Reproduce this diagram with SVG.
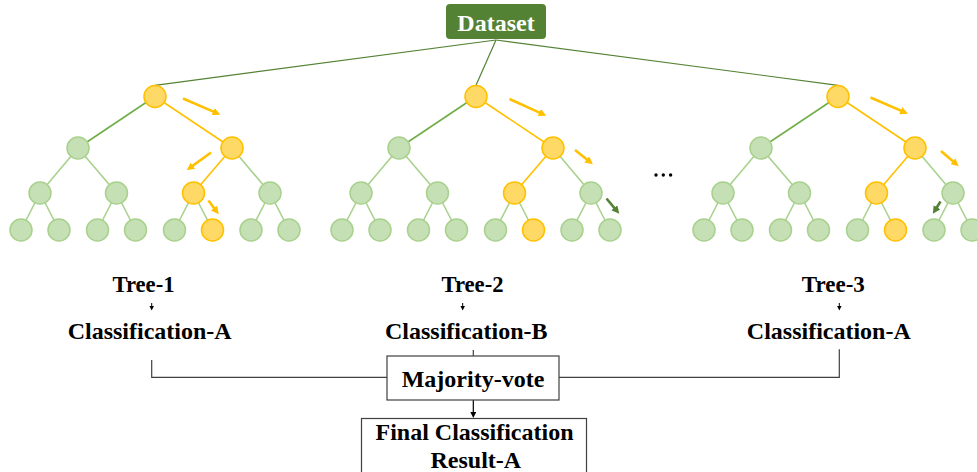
<svg xmlns="http://www.w3.org/2000/svg" width="977" height="472" viewBox="0 0 977 472">
<style>
.g{fill:#c5e0b4;stroke:#a9d18e;stroke-width:1.5}
.y{fill:#ffd966;stroke:#ffc000;stroke-width:1.5}
.eg{stroke:#a9d18e;stroke-width:1.6;fill:none}
.ed{stroke:#70ad47;stroke-width:1.6;fill:none}
.ey{stroke:#ffc000;stroke-width:1.6;fill:none}
.ds{stroke:#548235;stroke-width:1.2;fill:none}
.ay{stroke:#ffc000;stroke-width:2.6;fill:none;marker-end:url(#hy)}
.ag{stroke:#548235;stroke-width:2.6;fill:none;marker-end:url(#hg)}
.ln{stroke:#404040;stroke-width:1.2;fill:none}
.box{fill:#ffffff;stroke:#404040;stroke-width:1.2}
.t{font-family:"Liberation Serif","Times New Roman",serif;font-weight:bold;fill:#000;text-anchor:middle}
.t24{font-size:24px}
</style>
<defs>
<marker id="hy" viewBox="0 0 10 10" refX="5" refY="5" markerWidth="3" markerHeight="3" orient="auto"><path d="M0,0 L10,5 L0,10 z" fill="#ffc000"/></marker>
<marker id="hg" viewBox="0 0 10 10" refX="5" refY="5" markerWidth="3" markerHeight="3" orient="auto"><path d="M0,0 L10,5 L0,10 z" fill="#548235"/></marker>
<marker id="hk" viewBox="0 0 10 10" refX="5" refY="5" markerWidth="5" markerHeight="5" orient="auto"><path d="M0,0 L10,5 L0,10 z" fill="#000"/></marker>
</defs>

<g id="connectors">
  <line class="ds" x1="496" y1="40" x2="155" y2="85.3"/>
  <line class="ds" x1="496" y1="40" x2="476" y2="85.3"/>
  <line class="ds" x1="496" y1="40" x2="838" y2="85.3"/>
  <line class="ed" x1="155" y1="96.5" x2="78" y2="148"/>
  <line class="ey" x1="155" y1="96.5" x2="232" y2="148"/>
  <line class="eg" x1="78" y1="148" x2="40" y2="193"/>
  <line class="eg" x1="78" y1="148" x2="116.5" y2="193"/>
  <line class="ey" x1="232" y1="148" x2="193.5" y2="193"/>
  <line class="eg" x1="232" y1="148" x2="270" y2="193"/>
  <line class="eg" x1="40" y1="193" x2="21" y2="230"/>
  <line class="eg" x1="40" y1="193" x2="59" y2="230"/>
  <line class="eg" x1="116.5" y1="193" x2="97.5" y2="230"/>
  <line class="eg" x1="116.5" y1="193" x2="135.5" y2="230"/>
  <line class="eg" x1="193.5" y1="193" x2="174.5" y2="230"/>
  <line class="eg" x1="193.5" y1="193" x2="212.5" y2="230"/>
  <line class="eg" x1="270" y1="193" x2="251" y2="230"/>
  <line class="eg" x1="270" y1="193" x2="289" y2="230"/>
  <line class="ed" x1="476" y1="96.5" x2="399" y2="148"/>
  <line class="ey" x1="476" y1="96.5" x2="553" y2="148"/>
  <line class="eg" x1="399" y1="148" x2="361" y2="193"/>
  <line class="eg" x1="399" y1="148" x2="437.5" y2="193"/>
  <line class="ey" x1="553" y1="148" x2="514.5" y2="193"/>
  <line class="eg" x1="553" y1="148" x2="591" y2="193"/>
  <line class="eg" x1="361" y1="193" x2="342" y2="230"/>
  <line class="eg" x1="361" y1="193" x2="380" y2="230"/>
  <line class="eg" x1="437.5" y1="193" x2="418.5" y2="230"/>
  <line class="eg" x1="437.5" y1="193" x2="456.5" y2="230"/>
  <line class="eg" x1="514.5" y1="193" x2="495.5" y2="230"/>
  <line class="eg" x1="514.5" y1="193" x2="533.5" y2="230"/>
  <line class="eg" x1="591" y1="193" x2="572" y2="230"/>
  <line class="eg" x1="591" y1="193" x2="610" y2="230"/>
  <line class="ed" x1="838" y1="96.5" x2="761" y2="148"/>
  <line class="ey" x1="838" y1="96.5" x2="915" y2="148"/>
  <line class="eg" x1="761" y1="148" x2="723" y2="193"/>
  <line class="eg" x1="761" y1="148" x2="799.5" y2="193"/>
  <line class="ey" x1="915" y1="148" x2="876.5" y2="193"/>
  <line class="eg" x1="915" y1="148" x2="953" y2="193"/>
  <line class="eg" x1="723" y1="193" x2="704" y2="230"/>
  <line class="eg" x1="723" y1="193" x2="742" y2="230"/>
  <line class="eg" x1="799.5" y1="193" x2="780.5" y2="230"/>
  <line class="eg" x1="799.5" y1="193" x2="818.5" y2="230"/>
  <line class="eg" x1="876.5" y1="193" x2="857.5" y2="230"/>
  <line class="eg" x1="876.5" y1="193" x2="895.5" y2="230"/>
  <line class="eg" x1="953" y1="193" x2="934" y2="230"/>
  <line class="eg" x1="953" y1="193" x2="972" y2="230"/>
  <line class="ay" x1="183" y1="98.5" x2="216.8" y2="113.1"/>
  <line class="ay" x1="211" y1="152.5" x2="189.8" y2="167.9"/>
  <line class="ay" x1="208.5" y1="200.5" x2="216.4" y2="211.2"/>
  <line class="ay" x1="509.5" y1="99" x2="542.8" y2="114.1"/>
  <line class="ay" x1="575" y1="150" x2="589.8" y2="161.8"/>
  <line class="ag" x1="606.5" y1="198.5" x2="616.8" y2="210.8"/>
  <line class="ay" x1="870.5" y1="97.5" x2="904.3" y2="112.1"/>
  <line class="ay" x1="941" y1="151" x2="955.8" y2="163.7"/>
  <line class="ag" x1="940.5" y1="201.5" x2="934.9" y2="210.5"/>
  <line x1="151.7" y1="303" x2="151.7" y2="308" stroke="#000" stroke-width="1" marker-end="url(#hk)"/>
  <line x1="462.7" y1="303" x2="462.7" y2="308" stroke="#000" stroke-width="1" marker-end="url(#hk)"/>
  <line x1="839.3" y1="303" x2="839.3" y2="308" stroke="#000" stroke-width="1" marker-end="url(#hk)"/>
  <polyline class="ln" points="151.7,360 151.7,377.3 387,377.3"/>
  <polyline class="ln" points="559,377.3 839.3,377.3 839.3,349.3"/>
  <line class="ln" x1="473.3" y1="350" x2="473.3" y2="356"/>
  <line x1="473.3" y1="400" x2="473.3" y2="415" stroke="#000" stroke-width="1.2" marker-end="url(#hk)"/>
</g>

<g id="dataset">
  <rect x="446" y="4" width="100" height="35" rx="4" fill="#548235"/>
  <text class="t t24" x="496" y="30.5" style="fill:#fff">Dataset</text>
</g>

<g id="tree1">
  <g id="t1-n1"><circle class="y" cx="155" cy="96.5" r="11"/></g>
  <g id="t1-n2"><circle class="g" cx="78" cy="148" r="11"/></g>
  <g id="t1-n3"><circle class="y" cx="232" cy="148" r="11"/></g>
  <g id="t1-n4"><circle class="g" cx="40" cy="193" r="11"/></g>
  <g id="t1-n5"><circle class="g" cx="116.5" cy="193" r="11"/></g>
  <g id="t1-n6"><circle class="y" cx="193.5" cy="193" r="11"/></g>
  <g id="t1-n7"><circle class="g" cx="270" cy="193" r="11"/></g>
  <g id="t1-n8"><circle class="g" cx="21" cy="230" r="11"/></g>
  <g id="t1-n9"><circle class="g" cx="59" cy="230" r="11"/></g>
  <g id="t1-n10"><circle class="g" cx="97.5" cy="230" r="11"/></g>
  <g id="t1-n11"><circle class="g" cx="135.5" cy="230" r="11"/></g>
  <g id="t1-n12"><circle class="g" cx="174.5" cy="230" r="11"/></g>
  <g id="t1-n13"><circle class="y" cx="212.5" cy="230" r="11"/></g>
  <g id="t1-n14"><circle class="g" cx="251" cy="230" r="11"/></g>
  <g id="t1-n15"><circle class="g" cx="289" cy="230" r="11"/></g>
</g>

<g id="tree2">
  <g id="t2-n1"><circle class="y" cx="476" cy="96.5" r="11"/></g>
  <g id="t2-n2"><circle class="g" cx="399" cy="148" r="11"/></g>
  <g id="t2-n3"><circle class="y" cx="553" cy="148" r="11"/></g>
  <g id="t2-n4"><circle class="g" cx="361" cy="193" r="11"/></g>
  <g id="t2-n5"><circle class="g" cx="437.5" cy="193" r="11"/></g>
  <g id="t2-n6"><circle class="y" cx="514.5" cy="193" r="11"/></g>
  <g id="t2-n7"><circle class="g" cx="591" cy="193" r="11"/></g>
  <g id="t2-n8"><circle class="g" cx="342" cy="230" r="11"/></g>
  <g id="t2-n9"><circle class="g" cx="380" cy="230" r="11"/></g>
  <g id="t2-n10"><circle class="g" cx="418.5" cy="230" r="11"/></g>
  <g id="t2-n11"><circle class="g" cx="456.5" cy="230" r="11"/></g>
  <g id="t2-n12"><circle class="g" cx="495.5" cy="230" r="11"/></g>
  <g id="t2-n13"><circle class="y" cx="533.5" cy="230" r="11"/></g>
  <g id="t2-n14"><circle class="g" cx="572" cy="230" r="11"/></g>
  <g id="t2-n15"><circle class="g" cx="610" cy="230" r="11"/></g>
</g>

<g id="tree3">
  <g id="t3-n1"><circle class="y" cx="838" cy="96.5" r="11"/></g>
  <g id="t3-n2"><circle class="g" cx="761" cy="148" r="11"/></g>
  <g id="t3-n3"><circle class="y" cx="915" cy="148" r="11"/></g>
  <g id="t3-n4"><circle class="g" cx="723" cy="193" r="11"/></g>
  <g id="t3-n5"><circle class="g" cx="799.5" cy="193" r="11"/></g>
  <g id="t3-n6"><circle class="y" cx="876.5" cy="193" r="11"/></g>
  <g id="t3-n7"><circle class="g" cx="953" cy="193" r="11"/></g>
  <g id="t3-n8"><circle class="g" cx="704" cy="230" r="11"/></g>
  <g id="t3-n9"><circle class="g" cx="742" cy="230" r="11"/></g>
  <g id="t3-n10"><circle class="g" cx="780.5" cy="230" r="11"/></g>
  <g id="t3-n11"><circle class="g" cx="818.5" cy="230" r="11"/></g>
  <g id="t3-n12"><circle class="g" cx="857.5" cy="230" r="11"/></g>
  <g id="t3-n13"><circle class="y" cx="895.5" cy="230" r="11"/></g>
  <g id="t3-n14"><circle class="g" cx="934" cy="230" r="11"/></g>
  <g id="t3-n15"><circle class="g" cx="972" cy="230" r="11"/></g>
</g>

<g id="ellipsis">
  <circle cx="656" cy="175" r="1.7" fill="#000"/>
  <circle cx="663.3" cy="175" r="1.7" fill="#000"/>
  <circle cx="670.6" cy="175" r="1.7" fill="#000"/>
</g>

<g id="labels">
  <g id="tree1-label"><text class="t t24" x="143.5" y="291.7" textLength="62" lengthAdjust="spacingAndGlyphs">Tree-1</text></g>
  <g id="tree2-label"><text class="t t24" x="472.5" y="291.7" textLength="62" lengthAdjust="spacingAndGlyphs">Tree-2</text></g>
  <g id="tree3-label"><text class="t t24" x="833.3" y="291.7" textLength="63" lengthAdjust="spacingAndGlyphs">Tree-3</text></g>
  <g id="class1"><text class="t t24" x="149.7" y="339">Classification-A</text></g>
  <g id="class2"><text class="t t24" x="466.3" y="339">Classification-B</text></g>
  <g id="class3"><text class="t t24" x="828.8" y="339">Classification-A</text></g>
</g>

<g id="majority">
  <rect class="box" x="387" y="356" width="172" height="44"/>
  <text class="t t24" x="473" y="386.5">Majority-vote</text>
</g>

<g id="final">
  <rect class="box" x="361.5" y="418.5" width="225" height="60"/>
  <text class="t t24" x="474.5" y="440">Final Classification</text>
  <text class="t t24" x="475.8" y="468.3">Result-A</text>
</g>
</svg>
